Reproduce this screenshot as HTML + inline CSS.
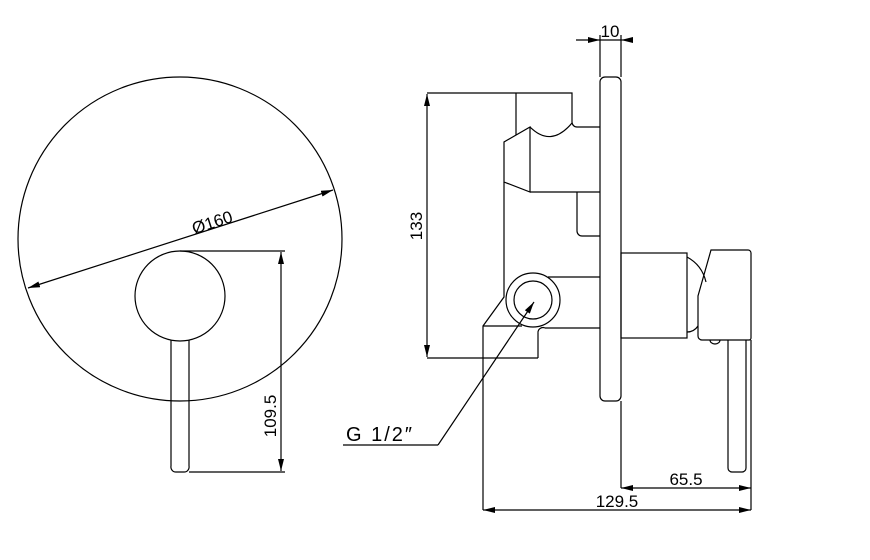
<!DOCTYPE html>
<html><head><style>html,body{margin:0;padding:0;background:#fff}svg{display:block}</style></head>
<body>
<svg width="870" height="560" viewBox="0 0 870 560" xmlns="http://www.w3.org/2000/svg">
<defs>
<marker id="a" viewBox="0 0 12 6" refX="12" refY="3" markerWidth="12" markerHeight="6" orient="auto-start-reverse" markerUnits="userSpaceOnUse"><path d="M0,0 L12,3 L0,6 z" fill="#000"/></marker>
</defs>
<g fill="none" stroke="#000" stroke-width="1.2">
<circle cx="180" cy="239" r="162"/>
<circle cx="180" cy="296" r="45"/>
<path d="M171,340 V466 a5,5 0 0 0 5,6 h8 a5,5 0 0 0 5,-6 V340"/>
<line x1="180" y1="251" x2="285" y2="251"/>
<line x1="189" y1="472" x2="285" y2="472"/>
<line x1="281" y1="252" x2="281" y2="471" marker-start="url(#a)" marker-end="url(#a)"/>
<line x1="28" y1="288" x2="333" y2="190" marker-start="url(#a)" marker-end="url(#a)"/>
<rect x="600" y="77" width="21" height="324" rx="5"/>
<line x1="600" y1="35" x2="600" y2="77"/>
<line x1="621" y1="35" x2="621" y2="77"/>
<line x1="576" y1="40" x2="600" y2="40" marker-end="url(#a)"/>
<line x1="633" y1="40" x2="621" y2="40" marker-end="url(#a)"/>
<line x1="600" y1="40" x2="621" y2="40"/>
<path d="M427,93 H572 V122 a5,5 0 0 0 5,5 H600"/>
<path d="M516,93 V135"/>
<path d="M530,127 Q551,148 572,123"/>
<path d="M530,127 L504,142 V182 L530,192 Z M530,192 H600"/>
<path d="M577,192 V231 a5,5 0 0 0 5,5 H600"/>
<path d="M504,182 V297 L483,326 V510"/>
<path d="M483,326 H522 M545,328 H600"/>
<path d="M538,358 V333 a5,5 0 0 1 7,-5"/>
<path d="M538,358 H427"/>
<line x1="548" y1="277" x2="600" y2="277"/>
<circle cx="533" cy="300" r="27"/>
<circle cx="533" cy="300" r="19"/>
<line x1="427" y1="94" x2="427" y2="357" marker-start="url(#a)" marker-end="url(#a)"/>
<line x1="438" y1="445" x2="534" y2="302" marker-end="url(#a)"/>
<line x1="343" y1="445" x2="438" y2="445"/>
<rect x="621" y="253" width="66" height="85"/>
<path d="M687,257 Q702,265 706,282 M687,332 Q694,332 698,326"/>
<path d="M711,250 H748 a3,3 0 0 1 3,3 V338 a2,2 0 0 1 -2,2 H702 a4,4 0 0 1 -4,-4 V296 Z"/>
<path d="M710,340 a5,4 0 0 0 10,0"/>
<path d="M728,340 V468 a4,4 0 0 0 4,4 h10 a4,4 0 0 0 4,-4 V340"/>
<line x1="621" y1="401" x2="621" y2="488"/>
<line x1="751" y1="340" x2="751" y2="510"/>
<line x1="621" y1="488" x2="751" y2="488" marker-start="url(#a)" marker-end="url(#a)"/>
<line x1="483" y1="510" x2="751" y2="510" marker-start="url(#a)" marker-end="url(#a)"/>
</g>
<g font-family="Liberation Sans, sans-serif" font-size="17" fill="#000">
<text x="610" y="37" text-anchor="middle">10</text>
<text transform="translate(422,226) rotate(-90)" text-anchor="middle">133</text>
<text transform="translate(276,416) rotate(-90)" text-anchor="middle">109.5</text>
<text transform="translate(214,228) rotate(-18)" text-anchor="middle">Ø160</text>
<text x="686" y="485" text-anchor="middle">65.5</text>
<text x="617" y="507" text-anchor="middle">129.5</text>
<text x="346" y="441" font-size="20" letter-spacing="2">G 1/2″</text>
</g>
</svg>
</body></html>
